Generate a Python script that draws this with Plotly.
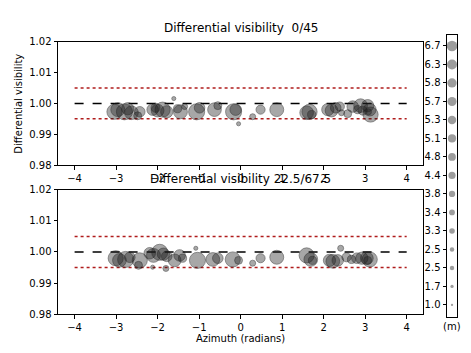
import plotly.graph_objects as go

#Data (azimuth in radians, visibility, baseline length in m)
top_azimuth=[-3.04,-2.96,-2.80,-2.72,-2.63,-2.48,-2.43,-2.12,-2.05,-2.00,-1.88,-1.78,-1.61,-1.52,-1.45,-1.35,-1.06,-0.99,-0.63,-0.55,-0.17,-0.12,-0.05,0.29,0.48,0.87,1.59,1.66,1.71,2.10,2.19,2.29,2.39,2.43,2.58,2.70,2.82,2.89,2.94,3.06,3.11,3.13,3.08]
top_visibility=[0.9973,0.9980,0.9973,0.9983,0.9970,0.9960,0.9973,0.9980,0.9986,0.9977,0.9980,0.9973,1.0016,0.9983,0.9973,0.9990,0.9973,0.9986,0.9980,0.9993,0.9973,0.9980,0.9934,0.9957,0.9980,0.9980,0.9970,0.9973,0.9964,0.9980,0.9977,0.9986,0.9990,0.9970,0.9967,0.9990,0.9980,0.9993,0.9977,0.9993,0.9980,0.9964,0.9973]
top_baseline=[6.3,5.8,6.7,5.1,5.7,3.3,4.4,4.8,3.8,5.3,6.3,5.1,1.7,3.4,5.8,2.5,6.7,4.4,5.7,3.3,6.7,4.8,1.7,2.5,3.8,5.8,5.7,6.3,3.4,5.1,5.3,4.4,3.8,2.5,3.3,4.8,3.4,5.7,3.8,5.1,5.3,6.3,2.5]

bottom_azimuth=[-3.01,-2.92,-2.77,-2.67,-2.43,-2.46,-2.19,-2.10,-1.95,-1.86,-1.78,-2.12,-1.80,-1.59,-1.47,-1.40,-1.08,-1.04,-0.67,-0.55,-0.19,-0.05,0.29,0.48,0.87,1.59,1.69,1.73,2.14,2.22,2.34,2.41,2.55,2.67,2.80,2.92,3.04,3.11,3.06]
bottom_visibility=[0.9980,0.9973,0.9976,0.9983,0.9973,0.9957,0.9996,0.9989,0.9999,0.9993,0.9986,0.9951,0.9947,0.9973,0.9989,0.9980,1.0012,0.9973,0.9976,0.9980,0.9976,0.9973,0.9964,0.9980,0.9983,0.9989,0.9976,0.9973,0.9973,0.9970,0.9973,1.0012,0.9983,0.9976,0.9980,0.9980,0.9980,0.9976,0.9973]
bottom_baseline=[6.3,5.7,6.7,4.4,6.3,3.3,4.8,5.8,6.7,5.1,4.4,1.7,2.5,5.3,4.8,3.4,1.7,6.7,5.7,4.4,6.3,3.3,2.5,3.8,5.8,6.3,5.7,3.4,5.1,5.7,4.8,2.5,3.8,3.4,4.4,5.1,5.3,6.3,3.3]

#Baseline lengths shown in the size key on the right (bottom to top)
key_labels=["1.0","1.7","2.5","2.5","3.3","3.4","3.8","4.4","4.8","5.1","5.3","5.7","5.8","6.3","6.7"]
key_lengths=[1.0,1.7,2.5,2.5,3.3,3.4,3.8,4.4,4.8,5.1,5.3,5.7,5.8,6.3,6.7]

level_line=[1.0,1.0]
limit_high=[1.005,1.005]
limit_low=[0.995,0.995]
line_x=[-4,4]

font_name="DejaVu Sans"

fig=go.Figure()

#Adding the scatter points and reference lines for each panel
for xa,ya,az,vis,bl in [("x","y",top_azimuth,top_visibility,top_baseline),("x2","y2",bottom_azimuth,bottom_visibility,bottom_baseline)]:
  fig.add_trace(go.Scatter(x=line_x,y=limit_high,mode="lines",line=dict(color="#b01c1c",width=1.5,dash="dot"),xaxis=xa,yaxis=ya,showlegend=False))
  fig.add_trace(go.Scatter(x=line_x,y=limit_low,mode="lines",line=dict(color="#b01c1c",width=1.5,dash="dot"),xaxis=xa,yaxis=ya,showlegend=False))
  fig.add_trace(go.Scatter(x=line_x,y=level_line,mode="lines",line=dict(color="black",width=1.6,dash="dash"),xaxis=xa,yaxis=ya,showlegend=False))
  fig.add_trace(go.Scatter(x=az,y=vis,mode="markers",
    marker=dict(size=[2.4*b for b in bl],color="rgba(30,30,30,0.55)",line=dict(color="rgba(30,30,30,0.65)",width=1)),
    xaxis=xa,yaxis=ya,showlegend=False))

#Size key
fig.add_trace(go.Scatter(x=[0]*len(key_lengths),y=list(range(len(key_lengths))),mode="markers",
  marker=dict(size=[1.45*b+0.8 for b in key_lengths],color="rgba(100,100,100,0.9)",line=dict(width=0)),
  xaxis="x3",yaxis="y3",showlegend=False))

axis_common=dict(showline=True,linecolor="black",linewidth=1,mirror=True,ticks="outside",ticklen=3.5,tickwidth=1,tickcolor="black",
  showgrid=False,zeroline=False,tickfont=dict(family=font_name,size=10,color="black"))

#The page puts 8px of body margin round the plot, so the figure is 8px smaller
fig.update_layout(
  width=463,height=345,
  margin=dict(l=50,r=14,t=27,b=36),
  plot_bgcolor="white",paper_bgcolor="white",
  font=dict(family=font_name,size=10,color="black"),
  xaxis=dict(axis_common,domain=[0,0.9155],range=[-4.4,4.4],tickvals=[-4,-3,-2,-1,0,1,2,3,4],anchor="y"),
  yaxis=dict(axis_common,domain=[0.539,0.9752],range=[0.98,1.02],tickvals=[0.98,0.99,1.0,1.01,1.02],tickformat=".2f",anchor="x"),
  xaxis2=dict(axis_common,domain=[0,0.9155],range=[-4.4,4.4],tickvals=[-4,-3,-2,-1,0,1,2,3,4],anchor="y2"),
  yaxis2=dict(axis_common,domain=[0.0106,0.4504],range=[0.98,1.02],tickvals=[0.98,0.99,1.0,1.01,1.02],tickformat=".2f",anchor="x2"),
  xaxis3=dict(showline=True,linecolor="black",linewidth=1,mirror=True,showticklabels=False,ticks="",showgrid=False,zeroline=False,
    domain=[0.975,1],range=[-1,1],anchor="y3"),
  yaxis3=dict(axis_common,domain=[0,1],range=[-0.65,14.59],tickvals=list(range(len(key_labels))),ticktext=key_labels,anchor="x3"),
)

#Titles and labels
fig.add_annotation(text="Differential visibility  0/45",xref="paper",yref="paper",x=0.4578,y=0.993,xanchor="center",yanchor="bottom",
  showarrow=False,font=dict(family=font_name,size=12,color="black"))
fig.add_annotation(text="Differential visibility 22.5/67.5",xref="paper",yref="paper",x=0.4578,y=0.4585,xanchor="center",yanchor="bottom",
  showarrow=False,font=dict(family=font_name,size=12,color="black"))
fig.add_annotation(text="Differential visibility",xref="paper",yref="paper",x=-0.1,y=0.757,xanchor="center",yanchor="middle",textangle=-90,
  showarrow=False,font=dict(family=font_name,size=10,color="black"))
fig.add_annotation(text="Azimuth (radians)",xref="paper",yref="paper",x=0.4578,y=-0.077,xanchor="center",yanchor="middle",
  showarrow=False,font=dict(family=font_name,size=10,color="black"))
fig.add_annotation(text="(m)",xref="paper",yref="paper",x=0.9875,y=-0.035,xanchor="center",yanchor="middle",
  showarrow=False,font=dict(family=font_name,size=10,color="black"))

fig.write_html("out.html")
